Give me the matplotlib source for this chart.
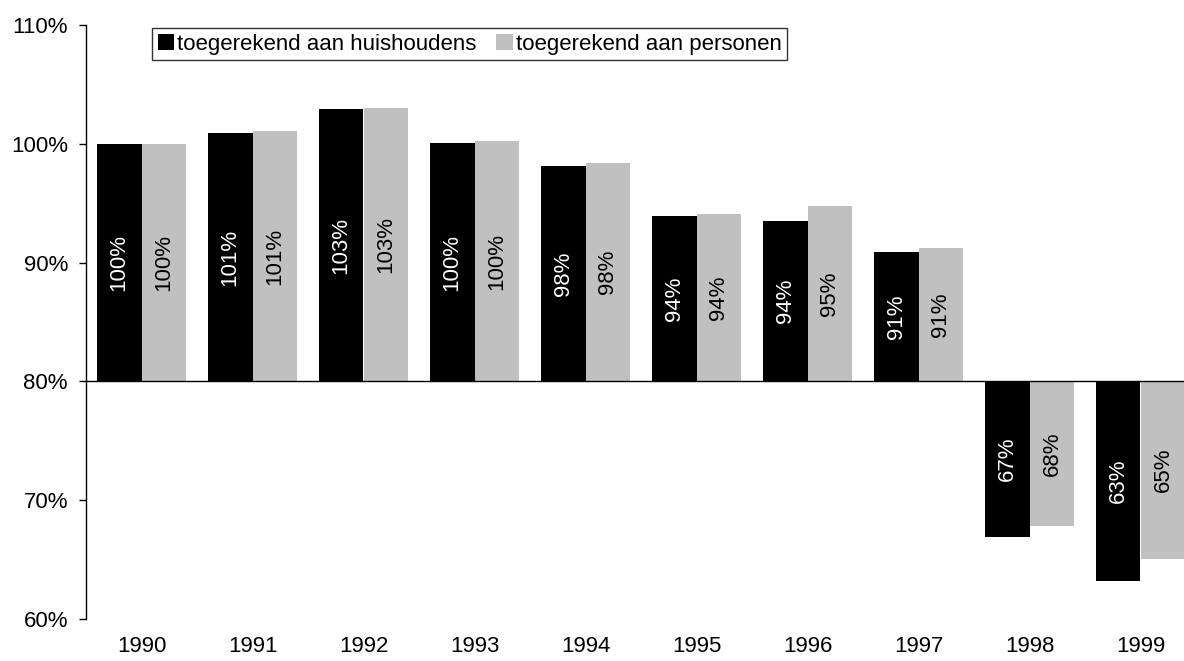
import matplotlib
matplotlib.use("Agg")
import matplotlib.pyplot as plt
import numpy as np
from matplotlib.ticker import FuncFormatter

plt.rcParams['font.family'] = ['Liberation Sans', 'DejaVu Sans']

years = ['1990', '1991', '1992', '1993', '1994', '1995', '1996', '1997', '1998', '1999']
huishoudens = [100.0, 100.9, 102.9, 100.1, 98.15, 93.9, 93.5, 90.9, 66.9, 63.2]
personen = [100.0, 101.1, 103.0, 100.25, 98.4, 94.05, 94.8, 91.2, 67.8, 65.05]
labels_h = ['100%', '101%', '103%', '100%', '98%', '94%', '94%', '91%', '67%', '63%']
labels_p = ['100%', '101%', '103%', '100%', '98%', '94%', '95%', '91%', '68%', '65%']
series_names = ['toegerekend aan huishoudens', 'toegerekend aan personen']
base = 80

fig = plt.figure(figsize=(11.84, 6.61), dpi=100)
ax = fig.add_axes([86/1184, 1-619/661, 1110/1184, 594/661])

x = np.arange(len(years))
w = 0.405
hv = np.array(huishoudens) - base
pv = np.array(personen) - base
ax.bar(x - w/2, hv, width=w, bottom=base, color='#000000', label=series_names[0])
ax.bar(x + w/2, pv, width=w, bottom=base, color='#C0C0C0', label=series_names[1])

fs_tick = 16
fs_bar = 16
fs_leg = 16
for i in range(len(years)):
    ax.text(x[i] - w/2, base + hv[i]/2, labels_h[i], rotation=90, ha='center', va='center',
            color='white', fontsize=fs_bar)
    ax.text(x[i] + w/2, base + pv[i]/2, labels_p[i], rotation=90, ha='center', va='center',
            color='black', fontsize=fs_bar)

ax.set_xlim(-0.5, len(years) - 0.5)
ax.set_ylim(60, 110)
ax.set_yticks([60, 70, 80, 90, 100, 110])
ax.yaxis.set_major_formatter(FuncFormatter(lambda v, p: f'{v:.0f}%'))
ax.set_xticks(x)
ax.set_xticklabels(years)
ax.tick_params(axis='x', length=0, pad=12, labelsize=fs_tick)
ax.tick_params(axis='y', length=5, width=1, direction='out', pad=8, labelsize=fs_tick)

for s in ['top', 'right', 'bottom']:
    ax.spines[s].set_visible(False)
ax.spines['left'].set_linewidth(1)
ax.axhline(base, color='black', linewidth=1, zorder=3)

leg = ax.legend(loc='upper left', bbox_to_anchor=((152-86)/1110, (619-28)/594), ncol=2,
                frameon=True, fancybox=False, edgecolor='black', fontsize=fs_leg,
                handlelength=0.75, handleheight=0.75, handletextpad=0.12, columnspacing=0.9,
                borderpad=0.25, borderaxespad=0)
leg.get_frame().set_linewidth(1)

fig.savefig('out.png', dpi=100)
